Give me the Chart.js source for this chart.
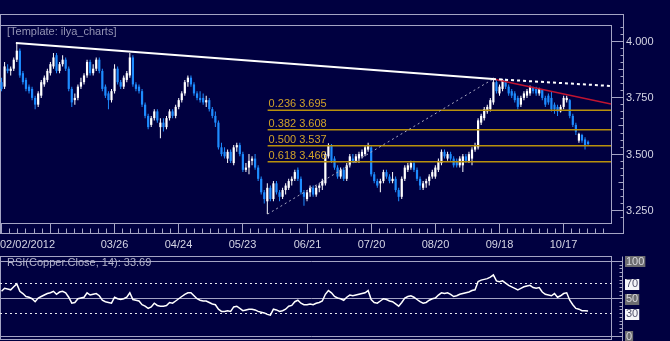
<!DOCTYPE html>
<html>
<head>
<meta charset="utf-8">
<script src="https://cdn.jsdelivr.net/npm/chart.js@4.4.0/dist/chart.umd.min.js"></script>
<style>
html, body { margin: 0; padding: 0; background: #000040; }
#wrap { position: relative; width: 670px; height: 341px; }
</style>
</head>
<body>
<div id="wrap"><canvas id="copper" width="670" height="341"></canvas></div>
<script>
"use strict";

// bottom axis: bar index of each date tick and its text
var tickIdx = [0, 16, 37, 58, 79, 100, 121, 142, 163, 184];
var tickText = ['02/02/2012', '', '03/26', '04/24', '05/23', '06/21', '07/20', '08/20', '09/18', '10/17'];
var slots = 200; // bar slots across the plot, the last ones stay empty

// daily copper candles
var opens = [3.82,3.80,3.88,3.87,3.88,3.92,3.96,3.86,3.83,3.80,
  3.79,3.75,3.72,3.76,3.81,3.83,3.86,3.89,3.94,3.87,
  3.90,3.92,3.88,3.79,3.74,3.75,3.80,3.82,3.85,3.91,
  3.86,3.88,3.92,3.87,3.80,3.77,3.74,3.78,3.88,3.82,
  3.80,3.83,3.85,3.93,3.81,3.80,3.78,3.72,3.67,3.63,
  3.66,3.69,3.62,3.64,3.62,3.66,3.69,3.67,3.71,3.74,
  3.77,3.82,3.84,3.81,3.77,3.75,3.75,3.73,3.74,3.70,
  3.67,3.64,3.53,3.51,3.48,3.51,3.46,3.53,3.54,3.50,
  3.43,3.44,3.47,3.48,3.44,3.39,3.33,3.29,3.35,3.30,
  3.37,3.33,3.31,3.34,3.35,3.38,3.39,3.43,3.39,3.33,
  3.30,3.33,3.35,3.32,3.35,3.36,3.37,3.49,3.54,3.48,
  3.44,3.40,3.43,3.39,3.45,3.48,3.47,3.48,3.49,3.50,
  3.52,3.53,3.41,3.38,3.37,3.38,3.42,3.40,3.38,3.39,
  3.34,3.31,3.39,3.43,3.44,3.46,3.43,3.39,3.35,3.37,
  3.38,3.40,3.40,3.43,3.46,3.51,3.48,3.50,3.48,3.47,
  3.45,3.45,3.49,3.47,3.48,3.52,3.53,3.64,3.66,3.69,
  3.70,3.73,3.82,3.77,3.79,3.83,3.80,3.78,3.77,3.75,
  3.72,3.75,3.76,3.77,3.795,3.79,3.77,3.785,3.75,3.76,
  3.75,3.72,3.71,3.69,3.71,3.74,3.74,3.67,3.63,3.56,
  3.585,3.565,3.555];
var highs = [3.84,3.91,3.90,3.89,3.93,3.995,3.97,3.87,3.84,3.81,
  3.80,3.76,3.78,3.83,3.85,3.88,3.91,3.95,3.95,3.91,
  3.94,3.93,3.89,3.80,3.77,3.81,3.84,3.86,3.92,3.92,
  3.90,3.93,3.93,3.88,3.81,3.78,3.79,3.90,3.89,3.83,
  3.85,3.87,3.95,3.94,3.82,3.81,3.79,3.73,3.68,3.67,
  3.70,3.70,3.66,3.66,3.67,3.70,3.70,3.72,3.75,3.78,
  3.83,3.85,3.85,3.82,3.78,3.78,3.77,3.76,3.75,3.71,
  3.69,3.65,3.55,3.53,3.52,3.52,3.54,3.55,3.55,3.51,
  3.46,3.50,3.49,3.50,3.45,3.40,3.34,3.37,3.36,3.38,
  3.38,3.34,3.35,3.37,3.39,3.40,3.43,3.44,3.40,3.34,
  3.34,3.36,3.36,3.36,3.37,3.39,3.51,3.548,3.545,3.49,
  3.45,3.44,3.44,3.46,3.50,3.50,3.50,3.51,3.52,3.54,
  3.55,3.54,3.42,3.39,3.39,3.43,3.43,3.41,3.42,3.40,
  3.35,3.40,3.45,3.46,3.47,3.47,3.44,3.40,3.38,3.39,
  3.41,3.43,3.45,3.48,3.52,3.52,3.51,3.51,3.49,3.48,
  3.49,3.50,3.50,3.51,3.53,3.55,3.66,3.68,3.71,3.72,
  3.75,3.84,3.83,3.81,3.835,3.835,3.81,3.79,3.78,3.76,
  3.76,3.78,3.79,3.805,3.80,3.80,3.795,3.79,3.76,3.77,
  3.78,3.73,3.72,3.72,3.76,3.76,3.745,3.68,3.64,3.595,
  3.59,3.575,3.56];
var lows = [3.78,3.79,3.86,3.85,3.87,3.91,3.84,3.81,3.78,3.77,
  3.74,3.70,3.71,3.75,3.80,3.82,3.85,3.88,3.86,3.86,
  3.89,3.87,3.78,3.71,3.72,3.74,3.79,3.81,3.84,3.85,
  3.85,3.87,3.86,3.78,3.75,3.70,3.73,3.77,3.81,3.79,
  3.79,3.82,3.84,3.80,3.78,3.77,3.71,3.66,3.61,3.62,
  3.65,3.64,3.57,3.60,3.61,3.65,3.66,3.66,3.70,3.73,
  3.76,3.80,3.80,3.76,3.74,3.73,3.72,3.71,3.69,3.66,
  3.62,3.52,3.49,3.48,3.46,3.46,3.45,3.51,3.49,3.42,
  3.42,3.41,3.45,3.43,3.38,3.32,3.28,3.233,3.29,3.29,
  3.32,3.29,3.30,3.32,3.34,3.36,3.38,3.38,3.32,3.27,
  3.29,3.31,3.31,3.31,3.33,3.34,3.36,3.48,3.46,3.43,
  3.39,3.39,3.38,3.38,3.44,3.46,3.46,3.46,3.48,3.49,
  3.51,3.40,3.37,3.35,3.33,3.37,3.39,3.37,3.37,3.33,
  3.29,3.30,3.38,3.42,3.43,3.42,3.38,3.34,3.34,3.35,
  3.36,3.39,3.39,3.42,3.45,3.48,3.47,3.47,3.44,3.44,
  3.44,3.42,3.46,3.46,3.45,3.51,3.52,3.63,3.65,3.68,
  3.69,3.72,3.77,3.76,3.78,3.79,3.76,3.75,3.73,3.70,
  3.71,3.74,3.75,3.76,3.77,3.76,3.76,3.74,3.71,3.72,
  3.69,3.68,3.67,3.685,3.70,3.73,3.66,3.62,3.585,3.55,
  3.55,3.52,3.54];
var closes = [3.79,3.89,3.87,3.88,3.92,3.96,3.85,3.82,3.79,3.78,
  3.75,3.72,3.77,3.82,3.84,3.87,3.90,3.93,3.87,3.90,
  3.92,3.88,3.79,3.73,3.75,3.80,3.82,3.85,3.91,3.86,
  3.88,3.92,3.87,3.79,3.76,3.74,3.78,3.88,3.82,3.80,
  3.84,3.86,3.93,3.81,3.79,3.78,3.72,3.67,3.62,3.66,
  3.69,3.65,3.64,3.62,3.66,3.69,3.67,3.71,3.74,3.77,
  3.82,3.84,3.81,3.77,3.75,3.74,3.73,3.74,3.70,3.67,
  3.64,3.53,3.50,3.49,3.51,3.47,3.53,3.54,3.50,3.43,
  3.44,3.47,3.48,3.44,3.39,3.33,3.30,3.35,3.30,3.37,
  3.33,3.31,3.34,3.36,3.38,3.39,3.42,3.39,3.33,3.31,
  3.33,3.35,3.32,3.35,3.36,3.38,3.50,3.54,3.47,3.44,
  3.40,3.43,3.39,3.45,3.49,3.47,3.49,3.50,3.51,3.53,
  3.54,3.41,3.38,3.36,3.38,3.42,3.40,3.38,3.39,3.34,
  3.31,3.39,3.44,3.45,3.46,3.43,3.39,3.36,3.37,3.38,
  3.40,3.42,3.44,3.47,3.51,3.49,3.50,3.48,3.45,3.45,
  3.48,3.49,3.47,3.50,3.52,3.54,3.65,3.67,3.70,3.71,
  3.74,3.82,3.78,3.80,3.83,3.80,3.77,3.76,3.74,3.71,
  3.75,3.77,3.78,3.80,3.78,3.77,3.79,3.75,3.72,3.73,
  3.70,3.70,3.69,3.71,3.75,3.75,3.67,3.63,3.60,3.59,
  3.56,3.54,3.545];

// RSI(14) line of the lower panel
var rsi = [60,64,63,62,66,70,60,57,53,52,
  50,46,51,53,55,57,58,60,56,59,
  60,58,52,44,45,50,51,52,58,55,
  56,57,54,48,46,45,44,52,50,49,
  50,52,58,49,48,47,42,40,37,39,
  44,41,40,40,41,45,44,47,50,53,
  56,58,58,54,50,48,47,47,45,43,
  42,36,33,33,34,33,39,40,37,34,
  35,36,36,35,33,32,31,29,28,36,
  35,33,34,36,40,41,46,48,44,42,
  42,43,42,44,45,47,56,61,58,53,
  51,50,48,52,55,54,55,56,57,58,
  61,49,45,44,47,50,49,47,46,43,
  40,45,51,53,54,52,49,46,44,45,
  48,50,51,55,58,57,58,56,53,54,
  56,57,58,59,61,62,73,75,76,77,
  79,82,74,73,74,71,68,66,64,62,
  64,66,67,68,65,64,65,59,56,55,
  54,57,52,54,57,58,48,42,37,36,
  34,34,33.69];

var priceTicks = [3.25, 3.5, 3.75, 4.0];
var rsiSolid = [100, 50, 0];
var rsiDotted = [70, 30];

// fibonacci retracement of the June low -> September high swing
var fibRatio = [0.236, 0.382, 0.5, 0.618];
var fibLevel = [3.695, 3.608, 3.537, 3.466];
var swingLow = { x: 87.1, y: 3.233 };
var swingHigh = { x: 160.9, y: 3.834 };
var topStart = { x: 4.7, y: 3.994 };
var dottedEnd = { x: 199.5, y: 3.803 };
var redEnd = { x: 199.5, y: 3.723 };

// both panels share one chart area (y 25..336); each axis range puts its panel in place
var priceRange = [2.6908, 4.0743];
var rsiRange = [0, 417.4];

var NAVY = '#000040';
var FRAME = '#a4a4c4';
var TEXT = '#d4d4e4';
var UP = '#ffffff';
var DOWN = '#1e8cff';
var GOLD = '#b8900c';
var FONT = '11px "Liberation Sans", Arial, sans-serif';

// panel frame positions (pixels)
var L = { outerTop: 14.5, innerTop: 25.5, innerBottom: 223.5, outerBottom: 233.5, axisX: 623.5,
  rsiTop: 256.5, rsiBottom: 339.5, rsiAxisX: 622.5 };

var idx = opens.map(function (_, i) { return i; });
var colors = idx.map(function (i) { return closes[i] >= opens[i] ? UP : DOWN; });
var wickData = idx.map(function (i) { return { x: i, y: [lows[i], highs[i]] }; });
var bodyData = idx.map(function (i) { return { x: i, y: [opens[i], closes[i]] }; });

function crisp(v) { return Math.floor(v) + 0.5; }
function hline(c, x1, x2, y) { c.beginPath(); c.moveTo(x1, y); c.lineTo(x2, y); c.stroke(); }
function vline(c, x, y1, y2) { c.beginPath(); c.moveTo(x, y1); c.lineTo(x, y2); c.stroke(); }

function drawFrames(chart) {
    var c = chart.ctx;
    var sx = chart.scales.x, sy = chart.scales.y, sr = chart.scales.yRsi;
    var right = crisp(sx.right);
    c.save();
    c.strokeStyle = FRAME;
    c.lineWidth = 1;
    c.font = FONT;
    c.textBaseline = 'middle';

    // price panel
    c.strokeRect(0.5, L.outerTop, L.axisX - 0.5, L.outerBottom - L.outerTop);
    c.strokeRect(0.5, L.innerTop, right - 0.5, L.innerBottom - L.innerTop);

    for (var k = 0; k <= 40; k++) {
        var v = 3.0 + k * 0.03125;
        var y = crisp(sy.getPixelForValue(v));
        if (y < L.innerTop || y > L.innerBottom) continue;
        if (k % 8 === 0) {
            hline(c, right, L.axisX, y);
        } else {
            hline(c, L.axisX - (k % 4 === 0 ? 5 : 3), L.axisX, y);
        }
    }
    c.fillStyle = TEXT;
    c.textAlign = 'left';
    priceTicks.forEach(function (v) {
        c.fillText(v.toFixed(3), 626, sy.getPixelForValue(v) + 0.5);
    });

    // date axis
    for (var t = 0; t < tickIdx.length; t++) {
        var x = crisp(sx.getPixelForValue(tickIdx[t]));
        vline(c, x, L.innerBottom, L.outerBottom);
        var next = t + 1 < tickIdx.length ? tickIdx[t + 1] : null;
        var parts = next === null ? 8 : Math.round((next - tickIdx[t]) / 2.625);
        var step = next === null ? 2.625 : (next - tickIdx[t]) / parts;
        for (var m = 1; m < parts || next === null; m++) {
            var mi = tickIdx[t] + m * step;
            if (mi > slots - 0.5) break;
            vline(c, crisp(sx.getPixelForValue(mi)), L.outerBottom - 5, L.outerBottom);
        }
        c.textAlign = t === 0 ? 'left' : 'center';
        c.fillText(tickText[t], t === 0 ? 0 : x, 245);
    }

    // RSI panel
    c.strokeRect(0.5, L.rsiTop, right - 0.5, L.rsiBottom - L.rsiTop);
    vline(c, L.rsiAxisX, L.rsiTop, chart.height);
    for (var r = 0; r <= 100; r += 5) {
        hline(c, L.rsiAxisX - 3, L.rsiAxisX, crisp(sr.getPixelForValue(r)));
    }
    rsiSolid.forEach(function (v) {
        hline(c, 0, L.rsiAxisX, crisp(sr.getPixelForValue(v)));
    });
    c.strokeStyle = '#e8e8f0';
    c.setLineDash([2, 3]);
    rsiDotted.forEach(function (v) {
        hline(c, 0, right, crisp(sr.getPixelForValue(v)));
    });
    c.setLineDash([]);
    c.restore();
}

function drawLabels(chart) {
    var c = chart.ctx;
    var sx = chart.scales.x, sy = chart.scales.y, sr = chart.scales.yRsi;
    c.save();
    c.font = FONT;
    c.textBaseline = 'middle';
    c.textAlign = 'left';

    c.fillStyle = '#9494b4';
    c.fillText('[Template: ilya_charts]', 7, 32);
    c.fillStyle = '#b4b4cc';
    c.fillText('RSI(Copper.Close, 14): ' + rsi[rsi.length - 1].toFixed(2), 7, 263);

    // fibonacci captions
    c.fillStyle = '#d0a22a';
    var fx = sx.getPixelForValue(swingLow.x) + 1;
    for (var f = 0; f < fibLevel.length; f++) {
        c.fillText(fibRatio[f].toFixed(3) + ' ' + fibLevel[f].toFixed(3), fx, sy.getPixelForValue(fibLevel[f]) - 6);
    }

    // RSI level boxes
    rsiSolid.concat(rsiDotted).forEach(function (v) {
        var y = sr.getPixelForValue(v);
        var txt = String(v);
        var w = c.measureText(txt).width + 2;
        var dotted = rsiDotted.indexOf(v) >= 0;
        c.fillStyle = dotted ? '#f4f4f8' : '#6c6c70';
        c.fillRect(625, Math.round(y) - 5, w, 11);
        c.fillStyle = dotted ? '#50506c' : '#d8d8dc';
        c.fillText(txt, 626, y + 0.5);
    });
    c.restore();
}

var panelPlugin = {
    id: 'panels',
    beforeDraw: function (chart) {
        var c = chart.ctx;
        c.save();
        c.fillStyle = NAVY;
        c.fillRect(0, 0, chart.width, chart.height);
        c.restore();
    },
    beforeDatasetsDraw: function (chart) { drawFrames(chart); },
    afterDatasetsDraw: function (chart) { drawLabels(chart); }
};

function flat(points, color, width, dash, order) {
    return { type: 'line', data: points, borderColor: color, borderWidth: width, borderDash: dash || [],
        pointRadius: 0, tension: 0, order: order, yAxisID: 'y' };
}

var datasets = [
    { type: 'line', label: 'RSI', yAxisID: 'yRsi', data: rsi.map(function (v, i) { return { x: i, y: v }; }),
      borderColor: '#ffffff', borderWidth: 1.5, pointRadius: 0, tension: 0, order: 0 },
    flat([topStart, swingHigh], '#ffffff', 2, null, 1),
    flat([swingHigh, dottedEnd], '#ffffff', 2, [3, 3], 1),
    flat([swingHigh, redEnd], '#c01430', 1.5, null, 1),
    flat([swingLow, swingHigh], '#a8a8c0', 1, [2, 3], 1)
];
fibLevel.forEach(function (lv) {
    datasets.push(flat([{ x: swingLow.x, y: lv }, { x: slots - 0.5, y: lv }], GOLD, 1.5, null, 2));
});
datasets.push({ type: 'bar', label: 'body', data: bodyData, backgroundColor: colors, grouped: false,
    maxBarThickness: 2.5, minBarLength: 1, order: 3 });
datasets.push({ type: 'bar', label: 'wick', data: wickData, backgroundColor: colors, grouped: false,
    maxBarThickness: 1, order: 4 });

var ctx = document.getElementById('copper').getContext('2d');
new Chart(ctx, {
    type: 'bar',
    data: { datasets: datasets },
    options: {
        responsive: false,
        animation: false,
        devicePixelRatio: 1,
        events: [],
        layout: { padding: { left: 0, right: 59, top: 25, bottom: 5 } },
        scales: {
            x: { type: 'linear', min: -0.5, max: slots - 0.5, offset: false, display: false },
            y: { type: 'linear', min: priceRange[0], max: priceRange[1], display: false },
            yRsi: { type: 'linear', min: rsiRange[0], max: rsiRange[1], display: false }
        },
        plugins: { legend: { display: false }, tooltip: { enabled: false } }
    },
    plugins: [panelPlugin]
});
</script>
</body>
</html>
